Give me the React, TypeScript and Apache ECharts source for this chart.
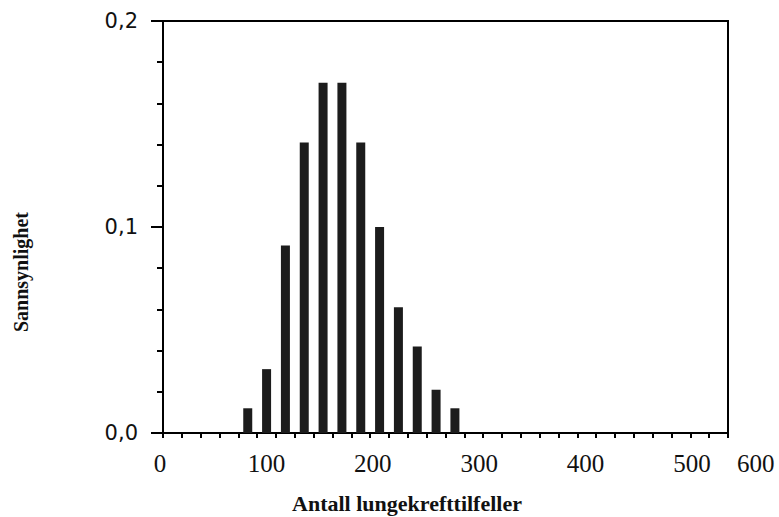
import React, { useEffect, useRef } from "react";
import * as echarts from "echarts";

// Data
const caseCounts = [90, 110, 130, 150, 170, 190, 210, 230, 250, 270, 290, 310];
const probabilities = [0.012, 0.031, 0.091, 0.141, 0.17, 0.17, 0.141, 0.1, 0.061, 0.042, 0.021, 0.012];
const xTickLabels = [0, 100, 200, 300, 400, 500];
const lastXLabel = "600";
const xTitle = "Antall lungekrefttilfeller";
const yTitle = "Sannsynlighet";

export default function App() {
  const ref = useRef<HTMLDivElement>(null);
  useEffect(() => {
    if (!ref.current) return;
    const chart = echarts.init(ref.current, null, { renderer: "svg" });
    const labelMargin = 18;
    const axisY = 433;
    chart.setOption({
      animation: false,
      backgroundColor: "#fff",
      grid: [
        {
          left: 163,
          right: 51,
          top: 21,
          bottom: 84,
          show: true,
          borderColor: "#000",
          borderWidth: 2,
          backgroundColor: "transparent",
        },
        {
          left: 160,
          width: 532,
          top: 21,
          bottom: 84,
          show: false,
        },
      ],
      xAxis: [
        {
          type: "value",
          gridIndex: 0,
          min: 0,
          max: 600,
          interval: 20,
          position: "bottom",
          axisLine: { show: true, onZero: false, lineStyle: { color: "#000", width: 2 } },
          axisTick: { show: true, length: 5, lineStyle: { color: "#000", width: 2 } },
          axisLabel: { show: false },
          splitLine: { show: false },
        },
        {
          type: "value",
          gridIndex: 1,
          min: 0,
          max: 500,
          interval: 100,
          position: "bottom",
          axisLine: { show: false },
          axisTick: { show: false },
          splitLine: { show: false },
          axisLabel: {
            show: true,
            customValues: xTickLabels,
            margin: labelMargin,
            color: "#111",
            fontFamily: "Liberation Serif",
            fontSize: 25,
            formatter: (v: number) => String(Math.round(v)),
          },
        },
      ],
      yAxis: [
        {
          type: "value",
          gridIndex: 0,
          min: 0,
          max: 0.2,
          interval: 0.1,
          axisLine: { show: true, onZero: false, lineStyle: { color: "#000", width: 2 } },
          axisTick: { show: true, length: 12, lineStyle: { color: "#000", width: 2 } },
          minorTick: { show: true, splitNumber: 5, length: 6, lineStyle: { color: "#000", width: 2 } },
          splitLine: { show: false },
          minorSplitLine: { show: false },
          axisLabel: {
            margin: 25,
            color: "#111",
            fontFamily: "DejaVu Sans",
            fontSize: 21,
            formatter: (v: number) => v.toFixed(1).replace(".", ","),
          },
        },
        {
          type: "value",
          gridIndex: 1,
          min: 0,
          max: 0.2,
          show: false,
        },
      ],
      graphic: [
        {
          type: "text",
          left: 757 - 20,
          top: axisY + labelMargin,
          style: {
            text: lastXLabel,
            fill: "#111",
            font: "25px 'Liberation Serif'",
          },
        },
        {
          type: "text",
          x: 407,
          y: 503,
          style: {
            text: xTitle,
            fill: "#111",
            font: "bold 22px 'Liberation Serif'",
            align: "center",
            verticalAlign: "middle",
          },
        },
        {
          type: "text",
          x: 21,
          y: 272,
          rotation: Math.PI / 2,
          style: {
            text: yTitle,
            fill: "#111",
            font: "bold 20px 'Liberation Serif'",
            align: "center",
            verticalAlign: "middle",
          },
        },
      ],
      series: [
        {
          type: "bar",
          xAxisIndex: 0,
          yAxisIndex: 0,
          barWidth: 9,
          itemStyle: { color: "#1c1c1c" },
          data: caseCounts.map((c, i) => [c, probabilities[i]]),
        },
      ],
    });
    return () => chart.dispose();
  }, []);
  return (
    <div
      ref={ref}
      style={{ position: "absolute", left: 0, top: 0, width: 779, height: 517 }}
    />
  );
}
